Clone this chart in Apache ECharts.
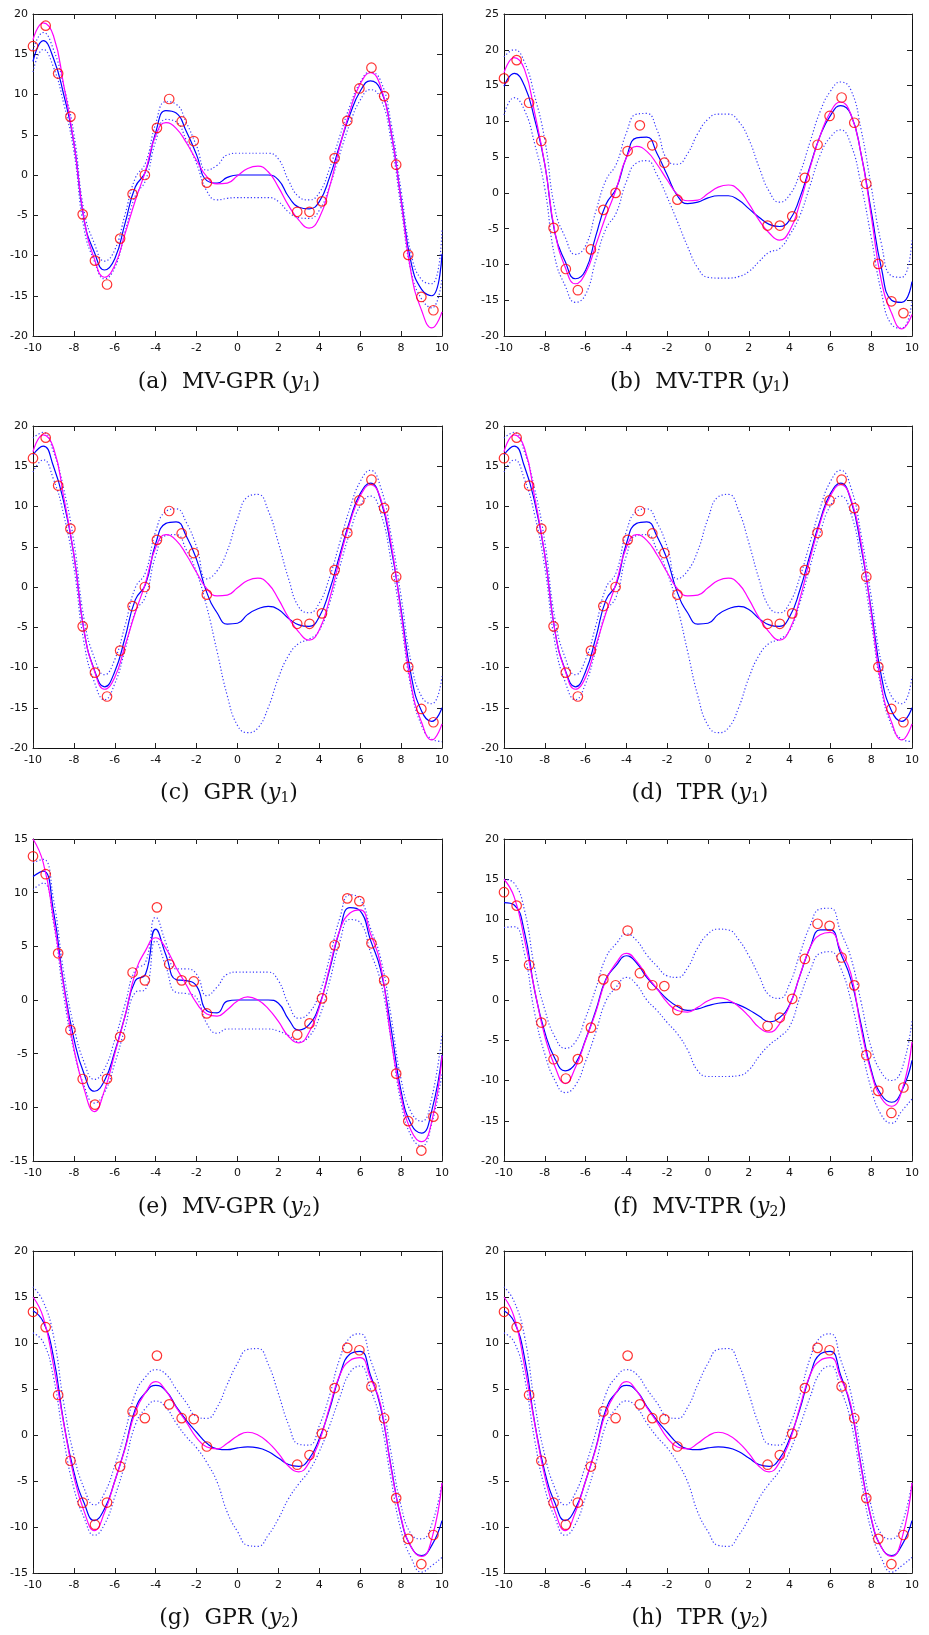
<!DOCTYPE html>
<html><head><meta charset="utf-8">
<script src="https://cdn.jsdelivr.net/npm/echarts@6/dist/echarts.min.js"></script>
<style>html,body{margin:0;padding:0;background:#fff}#c{width:929px;height:1635px}</style>
</head><body><div id="c"></div>
<script>
// sample positions of the curves
const xs = [-10,-9.5,-9,-8.5,-8,-7.5,-7,-6.5,-6,-5.5,-5,-4.5,-4,-3.5,-3,-2.5,-2,-1.5,-1,-0.5,0,0.5,1,1.5,2,2.5,3,3.5,4,4.5,5,5.5,6,6.5,7,7.5,8,8.5,9,9.5,10];
// observations
const obsX  = [-10,-9.38,-8.77,-8.17,-7.57,-6.97,-6.38,-5.74,-5.13,-4.53,-3.94,-3.34,-2.73,-2.14,-1.5,2.92,3.52,4.13,4.75,5.37,5.96,6.55,7.17,7.76,8.35,8.99,9.58];
const obsY1 = [16.0,18.55,12.6,7.25,-4.89,-10.64,-13.6,-7.9,-2.37,0.0,5.85,9.44,6.65,4.22,-0.95,-4.57,-4.57,-3.28,2.1,6.73,10.75,13.33,9.8,1.28,-9.92,-15.15,-16.8];
const obsY2 = [13.39,11.72,4.35,-2.8,-7.36,-9.75,-7.34,-3.43,2.56,1.83,8.63,3.33,1.83,1.73,-1.25,-3.23,-2.18,0.15,5.1,9.47,9.21,5.28,1.82,-6.86,-11.29,-14.03,-10.87];
// true functions
const trueY1 = [16.8,18.9,17.3,11.2,4.0,-5.5,-10.4,-12.7,-11.2,-7.3,-3.2,0.5,4.9,6.5,5.8,4.0,1.8,-0.2,-1.1,-1.0,-0.1,0.8,1.1,0.4,-1.5,-3.8,-5.6,-6.6,-5.3,-1.5,3.5,8.0,11.3,12.7,11.0,5.5,-3.2,-12.3,-16.8,-19.0,-17.0];
const trueY2 = [15.0,12.8,7.6,1.3,-4.5,-8.3,-10.4,-8.4,-5.0,-1.5,2.5,4.6,5.8,4.8,3.0,1.4,-0.3,-1.3,-1.5,-0.9,-0.1,0.3,0.0,-0.8,-2.0,-3.4,-4.0,-3.0,-0.7,3.0,6.5,8.1,8.4,6.2,3.3,-3.5,-9.0,-12.2,-13.2,-11.3,-5.2];
// (a) MV-GPR y1
const meanA  = [14.1,16.7,14.5,10.0,4.0,-5.6,-9.6,-11.8,-10.4,-6.0,-1.5,0.4,5.3,8.0,7.7,5.4,2.5,-0.7,-1.0,-0.3,0,0,0,0,-0.6,-2.7,-4.0,-4.2,-3.3,-0.3,3.7,7.5,10.4,11.7,10.6,5.5,-3.0,-11.0,-14.2,-15.0,-9.8];
const upperA = [15.5,17.7,15.6,11.1,5.1,-4.5,-8.5,-10.7,-9.3,-4.9,-0.4,1.5,6.4,9.1,8.8,6.5,3.6,0.6,1.2,2.5,2.7,2.7,2.7,2.7,2.0,-0.7,-2.7,-3.1,-2.2,0.8,4.8,8.6,11.5,12.8,11.7,6.6,-1.9,-9.9,-13.0,-13.5,-6.8];
const lowerA = [12.8,15.6,13.4,8.9,2.9,-6.7,-10.7,-12.9,-11.5,-7.1,-2.6,-0.7,4.2,6.9,6.6,4.3,1.4,-2.0,-3.1,-2.9,-2.8,-2.8,-2.8,-2.8,-3.3,-4.6,-5.3,-5.4,-4.4,-1.4,2.6,6.4,9.3,10.6,9.5,4.4,-4.1,-12.1,-15.4,-16.5,-12.8];
// (b) MV-TPR y1
const meanB  = [14.9,16.7,15.0,10.3,4.0,-5.7,-9.6,-12.0,-10.8,-6.0,-1.6,0.6,5.0,7.7,7.8,5.5,2.5,-0.4,-1.5,-1.3,-0.7,-0.4,-0.4,-1.0,-2.2,-3.4,-4.4,-4.7,-3.8,-0.7,3.7,8.0,10.8,12.2,11.0,5.5,-2.5,-10.5,-15.0,-15.3,-12.4];
const upperB = [19.0,20.0,18.3,13.6,7.4,-2.3,-6.2,-8.6,-7.4,-2.6,1.8,4.0,8.4,11.0,11.1,8.8,4.6,4.0,5.5,8.3,10.3,11.0,11.0,10.0,7.5,3.6,0.2,-1.3,-0.3,2.7,7.1,11.4,14.2,15.5,14.4,8.9,0.9,-7.1,-11.6,-11.8,-6.4];
const lowerB = [10.9,13.3,11.6,6.9,0.6,-9.1,-13.0,-15.3,-14.2,-9.4,-5.0,-2.8,1.6,4.2,4.5,2.5,-0.6,-4.0,-7.5,-10.5,-11.8,-11.9,-11.9,-11.7,-11.0,-9.6,-8.3,-7.8,-5.9,-3.2,1.0,5.3,7.8,8.8,6.8,1.2,-6.2,-13.9,-18.4,-18.9,-15.0];
// (c) GPR y1 and (d) TPR y1
const meanC  = [16.4,17.5,15.0,10.6,4.0,-5.5,-10.3,-12.4,-10.5,-6.3,-1.6,0.3,5.4,7.9,8.1,6.3,3.4,-0.7,-3.2,-4.6,-4.5,-3.4,-2.7,-2.4,-2.8,-3.9,-4.7,-4.9,-3.7,-0.4,4.0,8.3,11.6,12.9,10.8,5.0,-2.8,-11.1,-15.4,-16.7,-15.0];
const upperC = [18.5,19.2,16.8,12.2,5.6,-4.0,-8.8,-10.9,-9.0,-4.8,-0.1,1.8,6.9,9.4,9.7,8.0,5.0,1.0,2.0,4.5,8.5,11.2,11.5,9.5,5.5,1.0,-2.5,-3.2,-2.0,1.2,5.5,9.8,13.1,14.5,12.4,6.6,-1.2,-9.5,-13.6,-14.5,-11.1];
const lowerC = [14.3,15.8,13.4,9.0,2.4,-7.0,-11.8,-14.0,-12.0,-7.8,-3.1,-1.2,3.9,6.4,6.5,4.6,1.8,-2.5,-8.0,-13.5,-17.2,-18.1,-17.5,-15.0,-11.3,-8.5,-7.0,-6.5,-5.4,-2.0,2.5,6.8,10.1,11.3,9.2,3.4,-4.4,-12.7,-17.2,-18.9,-19.2];
// (e) MV-GPR y2
const meanE  = [11.5,12.0,8.3,1.5,-3.6,-6.9,-8.5,-7.5,-4.8,-1.5,1.8,2.4,6.6,4.2,1.9,1.8,1.3,-1.0,-1.2,-0.1,0,0,0,0,-0.3,-1.8,-2.8,-2.3,-0.5,2.8,6.5,8.6,8.3,5.6,2.8,-2.5,-8.5,-11.6,-12.4,-10.3,-5.1];
const upperE = [12.8,13.1,9.4,2.6,-2.5,-5.8,-7.4,-6.4,-3.7,-0.4,2.8,3.5,7.7,5.3,2.9,2.9,2.4,0.4,1.2,2.4,2.6,2.6,2.6,2.6,1.8,-0.4,-1.7,-1.2,0.6,3.9,7.6,9.8,9.4,6.7,3.9,-1.4,-7.4,-10.5,-11.3,-9.1,-3.1];
const lowerE = [10.3,10.9,7.2,0.4,-4.7,-8.0,-9.6,-8.6,-5.9,-2.6,0.7,1.0,5.5,3.1,0.7,0.6,0.2,-2.2,-3.1,-2.7,-2.7,-2.7,-2.7,-2.7,-2.9,-3.3,-3.9,-3.4,-1.6,1.7,5.4,7.5,7.2,4.5,1.7,-3.6,-9.6,-12.7,-13.6,-11.5,-6.8];
// (f) MV-TPR y2
const meanF  = [12.1,11.8,8.5,1.2,-4.0,-7.3,-8.8,-7.9,-4.9,-1.3,2.6,4.3,5.5,4.6,2.8,1.4,0.1,-0.8,-1.3,-1.1,-0.7,-0.4,-0.3,-0.6,-1.2,-2.0,-2.7,-2.2,-0.6,3.0,6.5,8.7,8.7,5.8,2.6,-3.0,-8.7,-11.8,-12.7,-11.3,-7.5];
const upperF = [15.0,14.5,11.2,4.0,-1.2,-4.6,-6.0,-5.2,-2.2,1.4,5.3,7.0,8.2,7.4,5.6,4.2,3.0,2.8,4.0,6.5,8.2,8.8,8.7,7.5,5.5,3.0,0.6,0.2,2.0,5.7,9.2,11.3,11.4,8.5,5.3,-0.2,-5.9,-9.0,-10.0,-8.6,-2.5];
const lowerF = [9.0,9.1,5.8,-1.6,-6.7,-10.0,-11.5,-10.6,-7.6,-4.0,-0.1,1.6,2.8,1.9,0.0,-1.3,-2.8,-4.2,-6.2,-8.8,-9.5,-9.5,-9.5,-9.4,-8.7,-7.0,-5.6,-4.6,-3.3,0.3,3.6,5.8,6.0,4.0,0.0,-5.6,-11.0,-14.3,-15.3,-13.8,-12.3];
// (g) GPR y2 and (h) TPR y2
const meanG  = [13.5,12.3,8.5,1.4,-4.0,-7.4,-9.3,-8.0,-5.0,-1.4,2.8,4.6,5.4,4.8,3.1,1.6,0.3,-0.9,-1.5,-1.6,-1.4,-1.3,-1.4,-1.8,-2.5,-3.2,-3.4,-2.6,-0.4,2.8,6.5,8.8,9.1,6.5,3.0,-3.3,-9.1,-12.2,-13.1,-12.0,-9.3];
const upperG = [16.1,14.5,10.8,3.5,-2.2,-5.8,-7.6,-6.3,-3.3,0.3,4.5,6.3,7.1,6.6,5.0,3.5,2.0,1.8,3.0,5.5,7.8,9.3,9.4,7.7,4.5,1.1,-1.0,-1.1,1.0,4.3,8.3,10.6,11.0,8.2,4.6,-1.8,-7.7,-10.8,-11.3,-9.7,-5.1];
const lowerG = [11.1,10.1,6.3,-0.5,-5.8,-9.0,-10.9,-9.7,-6.7,-3.1,1.1,2.9,3.7,3.0,1.3,-0.2,-1.4,-3.0,-5.1,-8.4,-10.5,-12.0,-12.1,-10.9,-9.1,-6.9,-5.3,-3.9,-1.8,1.0,4.1,6.8,7.5,5.0,1.5,-4.7,-10.4,-13.4,-14.9,-14.2,-13.3];

const panels = [
  {tag:'(a)', method:'MV-GPR', sub:'1', mean:meanA, up:upperA, lo:lowerA, truth:trueY1, obs:obsY1, yMin:-20, yMax:20},
  {tag:'(b)', method:'MV-TPR', sub:'1', mean:meanB, up:upperB, lo:lowerB, truth:trueY1, obs:obsY1, yMin:-20, yMax:25},
  {tag:'(c)', method:'GPR',    sub:'1', mean:meanC, up:upperC, lo:lowerC, truth:trueY1, obs:obsY1, yMin:-20, yMax:20},
  {tag:'(d)', method:'TPR',    sub:'1', mean:meanC, up:upperC, lo:lowerC, truth:trueY1, obs:obsY1, yMin:-20, yMax:20},
  {tag:'(e)', method:'MV-GPR', sub:'2', mean:meanE, up:upperE, lo:lowerE, truth:trueY2, obs:obsY2, yMin:-15, yMax:15},
  {tag:'(f)', method:'MV-TPR', sub:'2', mean:meanF, up:upperF, lo:lowerF, truth:trueY2, obs:obsY2, yMin:-20, yMax:20},
  {tag:'(g)', method:'GPR',    sub:'2', mean:meanG, up:upperG, lo:lowerG, truth:trueY2, obs:obsY2, yMin:-15, yMax:20},
  {tag:'(h)', method:'TPR',    sub:'2', mean:meanG, up:upperG, lo:lowerG, truth:trueY2, obs:obsY2, yMin:-15, yMax:20}
];

const colX = [33, 504], colW = [409, 408], rowY = [14, 426, 839, 1251], gH = 322;
const capX = [229, 700], capY = [382, 793, 1207, 1618];
const grid = [], xAxis = [], yAxis = [], series = [], graphic = [];
const lab = {color:'#111', fontSize:11, fontFamily:'DejaVu Sans'};
const line = {onZero:false, lineStyle:{color:'#111', width:1}};
const tick = {inside:true, length:5, lineStyle:{color:'#222', width:1}};
const pair = a => xs.map((x, j) => [x, a[j]]);

panels.forEach((p, i) => {
  const c = i % 2, r = Math.floor(i / 2);
  grid.push({left:colX[c], top:rowY[r], width:colW[c], height:gH, show:false});
  xAxis.push({gridIndex:i, type:'value', min:-10, max:10, interval:2, position:'bottom', axisLine:line, axisTick:tick, axisLabel:Object.assign({margin:7}, lab), splitLine:{show:false}});
  xAxis.push({gridIndex:i, type:'value', min:-10, max:10, interval:2, position:'top', axisLine:line, axisTick:tick, axisLabel:{show:false}, splitLine:{show:false}});
  yAxis.push({gridIndex:i, type:'value', min:p.yMin, max:p.yMax, interval:5, position:'left', axisLine:line, axisTick:tick, axisLabel:Object.assign({margin:5}, lab), splitLine:{show:false}});
  yAxis.push({gridIndex:i, type:'value', min:p.yMin, max:p.yMax, interval:5, position:'right', axisLine:line, axisTick:tick, axisLabel:{show:false}, splitLine:{show:false}});
  const xi = 2 * i, yi = 2 * i;
  const base = {type:'line', xAxisIndex:xi, yAxisIndex:yi, showSymbol:false, smooth:0.5, silent:true, animation:false};
  series.push(Object.assign({}, base, {data:pair(p.up), z:2, lineStyle:{color:'#3a3aff', width:1.2, type:[1.2, 2.2]}}));
  series.push(Object.assign({}, base, {data:pair(p.lo), z:2, lineStyle:{color:'#3a3aff', width:1.2, type:[1.2, 2.2]}}));
  series.push(Object.assign({}, base, {data:pair(p.mean), z:3, lineStyle:{color:'#0000ff', width:1.2}}));
  series.push(Object.assign({}, base, {data:pair(p.truth), z:4, lineStyle:{color:'#ff00ff', width:1.2}}));
  series.push({type:'scatter', xAxisIndex:xi, yAxisIndex:yi, z:5, animation:false, silent:true,
    data:obsX.map((x, j) => [x, p.obs[j]]), symbol:'circle', symbolSize:9.5,
    itemStyle:{color:'rgba(255,255,255,0)', borderColor:'#ff0000', borderWidth:1.2}});
  graphic.push({type:'text', x:capX[c], y:capY[r], silent:true, style:{
    text:'{n|' + p.tag + '  ' + p.method + ' (}{i|y}{s|' + p.sub + '}{n|)}',
    align:'center', verticalAlign:'middle',
    rich:{
      n:{fontSize:22, fontFamily:'DejaVu Serif', fill:'#111'},
      i:{fontSize:22, fontFamily:'DejaVu Serif', fontStyle:'italic', fill:'#111'},
      s:{fontSize:14, fontFamily:'DejaVu Serif', fill:'#111', padding:[10, 0, 0, 0]}
    }}});
});

const chart = echarts.init(document.getElementById('c'), null, {renderer:'canvas'});
chart.setOption({animation:false, backgroundColor:'#fff', grid, xAxis, yAxis, series, graphic});
</script>
</body></html>
